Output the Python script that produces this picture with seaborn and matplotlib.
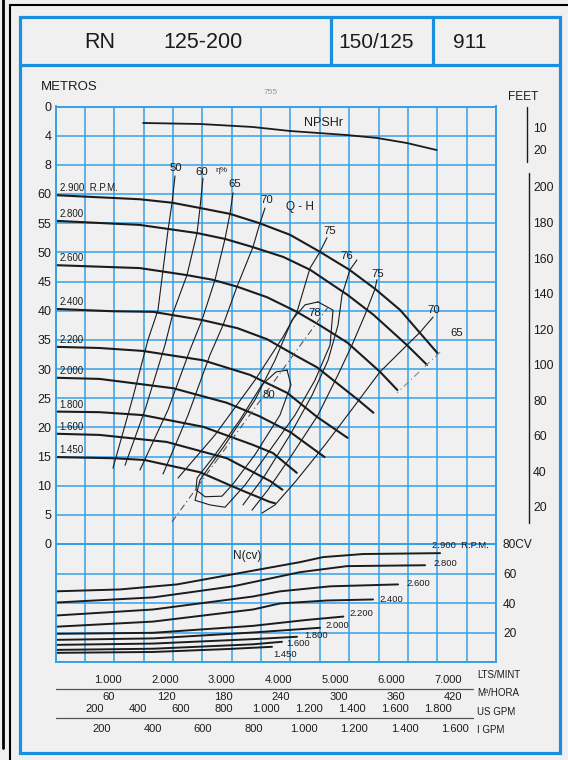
import matplotlib
matplotlib.use('Agg')
import matplotlib.pyplot as plt
import matplotlib.transforms as mtransforms
from matplotlib.patches import Rectangle
from matplotlib.lines import Line2D
import numpy as np
import pandas as pd
import seaborn as sns

# ---------------- data (Q in m3/h, H in m, P in CV) ----------------
SPEED_LABELS = ['2.900  R.P.M.', '2.800', '2.600', '2.400', '2.200',
                '2.000', '1.800', '1.600', '1.450']

Q_2900 = [0, 88, 122, 151, 182, 213, 245, 276, 307, 334, 360, 380, 399]
H_2900 = [59.8, 59.1, 58.5, 57.6, 56.6, 55.0, 53.0, 50.1, 47.0, 43.7, 40.1, 36.3, 32.7]
Q_2800 = [0, 88, 148, 177, 206, 238, 266, 305, 332, 367, 388]
H_2800 = [55.4, 54.7, 53.3, 52.3, 50.9, 49.2, 47.0, 42.7, 39.3, 34.1, 30.7]
Q_2600 = [0, 88, 137, 164, 190, 221, 252, 276, 305, 339, 357]
H_2600 = [47.8, 47.3, 46.1, 45.3, 44.1, 42.3, 39.8, 37.5, 34.5, 29.5, 26.4]
Q_2400 = [0, 60, 102, 153, 190, 221, 253, 273, 316, 332]
H_2400 = [40.3, 39.9, 39.8, 38.4, 37.0, 35.1, 32.1, 30.3, 24.7, 22.5]
Q_2200 = [0, 46, 91, 154, 203, 242, 273, 305]
H_2200 = [33.8, 33.6, 33.1, 31.5, 29.0, 25.9, 21.8, 18.2]
Q_2000 = [0, 46, 123, 179, 213, 245, 281]
H_2000 = [28.5, 28.3, 26.7, 24.2, 21.9, 19.2, 14.9]
Q_1800 = [0, 46, 91, 154, 206, 227, 252]
H_1800 = [22.7, 22.6, 22.1, 20.1, 17.0, 15.6, 12.2]
Q_1600 = [0, 46, 116, 179, 224, 237]
H_1600 = [18.9, 18.7, 17.5, 14.7, 10.8, 9.3]
Q_1450 = [0, 62, 93, 151, 193, 224, 229]
H_1450 = [14.9, 14.7, 14.4, 12.3, 9.3, 7.2, 7.0]

# NPSH required (m)
NPSH_Q = [91.5, 151, 206, 245, 304, 336, 367, 398]
NPSH_M = [2.26, 2.40, 2.81, 3.36, 3.91, 4.32, 5.01, 5.97]

# iso-efficiency lines
ETA50_Q = [124.8, 121.7, 117.5, 112.3, 107.0, 96.6, 80.9, 60.0]
ETA50_H = [63.1, 58.5, 53.8, 47.0, 40.1, 35.0, 25.2, 13.0]
ETA60_Q = [154.0, 150.9, 147.8, 137.3, 122.7, 114.3, 93.5, 72.6]
ETA60_H = [62.7, 57.6, 53.3, 46.1, 39.6, 34.1, 23.0, 13.5]
ETA65_Q = [185.4, 182.2, 177.0, 166.6, 153.0, 140.5, 117.5, 88.2]
ETA65_H = [60.2, 56.6, 52.3, 45.3, 38.4, 33.3, 23.0, 12.7]
ETA70_Q = [218.8, 213.5, 206.2, 189.5, 174.9, 161.3, 138.4, 112.3]
ETA70_H = [57.6, 55.0, 50.9, 44.1, 37.5, 32.4, 22.1, 12.0]
ETA75L_Q = [283.5, 276.2, 265.8, 252.2, 237.6, 208.3, 166.6, 127.9]
ETA75L_H = [52.5, 50.1, 47.3, 39.8, 35.5, 28.1, 18.7, 11.3]
ETA76_Q = [314.8, 307.5, 299.2, 295.0, 284.6, 267.9, 244.9, 218.8, 195.8]
ETA76_H = [48.7, 47.0, 42.7, 37.5, 31.5, 25.5, 18.7, 11.8, 6.7]
ETA75R_Q = [335.7, 333.6, 323.2, 309.6, 295.0, 274.1, 247.0, 221.9, 205.2]
ETA75R_H = [45.3, 43.7, 39.3, 34.1, 29.0, 22.1, 15.3, 9.3, 5.8]
ETA70R_Q = [394.3, 380.7, 367.1, 338.8, 312.8, 281.5, 250.1, 229.2, 215.6]
ETA70R_H = [38.9, 36.3, 34.1, 29.5, 23.8, 17.0, 10.6, 6.7, 5.3]
ETA78_Q = [274.1, 289.8, 286.7, 271.0, 250.1, 224.0, 197.9, 177.0, 161.3, 145.7,
           150.9, 177.0, 208.3, 229.2, 247.0, 260.6, 274.1]
ETA78_H = [41.5, 40.1, 34.1, 28.1, 22.1, 16.1, 10.1, 6.3, 6.7, 7.5,
           11.0, 17.0, 24.7, 31.5, 38.4, 41.0, 41.5]
ETA80_Q = [241.8, 245.9, 234.4, 208.3, 185.4, 173.9, 156.1, 146.7, 147.8, 166.6,
           192.7, 215.6, 230.3, 241.8]
ETA80_H = [29.8, 27.3, 22.1, 15.3, 10.3, 8.2, 8.1, 9.3, 11.3, 15.3,
           21.3, 27.3, 29.5, 29.8]
BEP_Q = [121.7, 284.6]
BEP_H = [3.8, 40.6]
ETA65R_Q = [401.6, 356.6]
ETA65R_H = [32.9, 25.9]

ETA_LABELS = ['50', '60', '65', '70', '75', '76', '75', '70', '65', '78', '80']
ETA_LABEL_Q = [125.8, 153.0, 187.5, 220.9, 286.7, 304.4, 336.8, 395.4, 419.4, 271.0, 223.0]
ETA_LABEL_H = [64.5, 63.8, 61.7, 59.0, 53.7, 49.4, 46.3, 40.1, 36.2, 39.6, 25.5]

# absorbed power N (CV)
PQ_2900 = [0, 67.4, 126.9, 185.4, 255.3, 279.3, 321.1, 401.6]
P_2900 = [47.9, 49.2, 52.6, 59.5, 67.7, 71.1, 73.2, 73.8]
PQ_2800 = [0, 101.9, 185.4, 255.3, 304.4, 385.9]
P_2800 = [40.3, 43.8, 51.3, 60.9, 65.0, 65.6]
PQ_2600 = [0, 101.9, 206.2, 234.4, 286.7, 357.7]
P_2600 = [31.5, 35.6, 44.4, 47.9, 51.3, 52.6]
PQ_2400 = [0, 101.9, 206.2, 234.4, 283.5, 331.6]
P_2400 = [23.9, 27.4, 35.6, 39.7, 41.7, 42.4]
PQ_2200 = [0, 101.9, 206.2, 262.0, 300.6]
P_2200 = [19.1, 19.8, 24.5, 28.5, 30.8]
PQ_2000 = [0, 101.9, 206.2, 276.2]
P_2000 = [15.0, 16.0, 20.0, 23.2]
PQ_1800 = [0, 101.9, 206.2, 252.2]
P_1800 = [11.6, 12.5, 15.5, 17.1]
PQ_1600 = [0, 101.9, 206.2, 236.5]
P_1600 = [8.2, 9.0, 12.0, 13.7]
PQ_1450 = [0, 101.9, 180.0, 226.1]
P_1450 = [6.2, 6.8, 8.8, 10.3]

# flow scales under the chart (m3/h per unit, as printed on the sheet)
LPM_TICKS = [1000, 2000, 3000, 4000, 5000, 6000, 7000]
M3H_TICKS = [60, 120, 180, 240, 300, 360, 420]
USGPM_TICKS = [200, 400, 600, 800, 1000, 1200, 1400, 1600, 1800]
IGPM_TICKS = [200, 400, 600, 800, 1000, 1200, 1400, 1600]
LPM_FACTOR = 0.0593
USGPM_FACTOR = 0.2245
IGPM_FACTOR = 0.264
FEET_HEAD = [20, 40, 60, 80, 100, 120, 140, 160, 180, 200]
FEET_NPSH = [10, 20]

# ---------------- styling ----------------
BLUE = '#35a0e6'
FRAME = '#1a8fe0'
INK = '#1c1c1c'
PAPER = '#f0f0f0'
W_PX, H_PX = 568, 760


def fx(px):
    return px / W_PX


def fy(py):
    return 1 - py / H_PX


def dotted(v):
    return f'{v:,}'.replace(',', '.')


sns.set_theme(style='white')
plt.rcParams['font.family'] = ['Liberation Sans', 'DejaVu Sans']
plt.rcParams['text.color'] = INK

fig = plt.figure(figsize=(5.68, 7.6), dpi=100)
fig.patch.set_facecolor(PAPER)

left, right = fx(55.5), fx(496)
ax_h = fig.add_axes([left, fy(544), right - left, fy(106.5) - fy(544)])
ax_p = fig.add_axes([left, fy(662), right - left, fy(544) - fy(662)], sharex=ax_h)
ax_s = fig.add_axes([left, fy(750), right - left, fy(662) - fy(750)])

for ax in (ax_h, ax_p):
    ax.set_facecolor(PAPER)
    ax.set_xticks(np.linspace(0, 460, 16))
    ax.grid(True, color=BLUE, lw=1.1)
    ax.set_axisbelow(True)
    ax.tick_params(length=0, labelbottom=False, colors=INK)
    for s in ax.spines.values():
        s.set_color(BLUE)
        s.set_linewidth(1.4)
ax_h.set_xlim(0, 460)

# ---- Q-H curves ----
qh_q = [Q_2900, Q_2800, Q_2600, Q_2400, Q_2200, Q_2000, Q_1800, Q_1600, Q_1450]
qh_h = [H_2900, H_2800, H_2600, H_2400, H_2200, H_2000, H_1800, H_1600, H_1450]
df_qh = pd.concat([pd.DataFrame({'Q': q, 'H': h, 'speed': lab})
                   for q, h, lab in zip(qh_q, qh_h, SPEED_LABELS)])
sns.lineplot(data=df_qh, x='Q', y='H', units='speed', estimator=None, sort=False,
             color=INK, lw=1.5, ax=ax_h)
for q, h, lab in zip(qh_q, qh_h, SPEED_LABELS):
    ax_h.annotate(lab, (q[0], h[0]), xytext=(4, 2), textcoords='offset pixels',
                  fontsize=7, ha='left', va='bottom', color=INK)

# ---- efficiency lines ----
eta_q = [ETA50_Q, ETA60_Q, ETA65_Q, ETA70_Q, ETA75L_Q, ETA76_Q, ETA75R_Q, ETA70R_Q,
         ETA78_Q, ETA80_Q]
eta_h = [ETA50_H, ETA60_H, ETA65_H, ETA70_H, ETA75L_H, ETA76_H, ETA75R_H, ETA70R_H,
         ETA78_H, ETA80_H]
df_eta = pd.concat([pd.DataFrame({'Q': q, 'H': h, 'line': i})
                    for i, (q, h) in enumerate(zip(eta_q, eta_h))])
sns.lineplot(data=df_eta, x='Q', y='H', units='line', estimator=None, sort=False,
             color=INK, lw=0.8, ax=ax_h)
ax_h.plot(BEP_Q, BEP_H, color='#555555', lw=0.8, ls=(0, (6, 3, 1, 3)))
ax_h.plot(ETA65R_Q, ETA65R_H, color='#888888', lw=0.8, ls=(0, (6, 3, 1, 3)))
for lab, q, h in zip(ETA_LABELS, ETA_LABEL_Q, ETA_LABEL_H):
    ax_h.text(q, h, lab, fontsize=8.2, ha='center', va='center', color=INK)
ax_h.text(173.9, 64.0, 'η%', fontsize=6, ha='center', va='center', color=INK)

# ---- NPSHr (top scale: 0 m at H=75, 4 m per 5 m of head) ----
npsh_plot = [75 - 1.25 * n for n in NPSH_M]
sns.lineplot(x=NPSH_Q, y=npsh_plot, color=INK, lw=1.3, sort=False, ax=ax_h)
ax_h.text(279.4, 72.2, 'NPSHr', fontsize=9, ha='center', va='center')
ax_h.text(255.3, 57.8, 'Q - H', fontsize=8.5, ha='center', va='center')

ax_h.set_ylim(0, 75)
ax_h.set_yticks(np.arange(0, 80, 5))
ax_h.set_yticklabels([str(v) for v in range(0, 65, 5)] + ['8', '4', '0'], fontsize=9)
ax_h.tick_params(axis='y', pad=3)
ax_h.set_xlabel('')
ax_h.set_ylabel('')

# feet scales on the right
tr = mtransforms.blended_transform_factory(ax_h.transAxes, ax_h.transData)
ax_h.plot([1.070, 1.070], [74.9, 65.5], color=INK, lw=1.0, transform=tr, clip_on=False)
ax_h.plot([1.074, 1.074], [63.6, 3.6], color=INK, lw=1.0, transform=tr, clip_on=False)
for ft in FEET_NPSH:
    ax_h.text(1.084, 75 - 1.25 * ft * 0.3048, str(ft), transform=tr, fontsize=8.8,
              ha='left', va='center')
for ft in FEET_HEAD:
    ax_h.text(1.084, ft * 0.3048, str(ft), transform=tr, fontsize=8.8,
              ha='left', va='center')

# ---- power curves ----
p_q = [PQ_2900, PQ_2800, PQ_2600, PQ_2400, PQ_2200, PQ_2000, PQ_1800, PQ_1600, PQ_1450]
p_v = [P_2900, P_2800, P_2600, P_2400, P_2200, P_2000, P_1800, P_1600, P_1450]
df_p = pd.concat([pd.DataFrame({'Q': q, 'P': p, 'speed': lab})
                  for q, p, lab in zip(p_q, p_v, SPEED_LABELS)])
sns.lineplot(data=df_p, x='Q', y='P', units='speed', estimator=None, sort=False,
             color=INK, lw=1.4, ax=ax_p)
offsets = [(-8, 8), (8, 2), (8, 1), (6, 0), (6, 3), (5, 2), (7, 1), (4, -2), (1, -8)]
for q, p, lab, off in zip(p_q, p_v, SPEED_LABELS, offsets):
    ax_p.annotate(lab, (q[-1], p[-1]), xytext=off, textcoords='offset pixels',
                  fontsize=6.8, ha='left', va='center', color=INK)
ax_p.text(200.0, 71.8, 'N(cv)', fontsize=8.5, ha='center', va='center')
ax_p.set_ylim(0, 80)
ax_p.set_yticks([0, 20, 40, 60, 80])
ax_p.set_yticklabels(['', '20', '40', '60', '80CV'], fontsize=8.6)
ax_p.yaxis.tick_right()
ax_p.tick_params(axis='y', pad=5)
ax_p.set_xlabel('')
ax_p.set_ylabel('')

# ---- flow scales ----
ax_s.set_xlim(4, 465)
ax_s.set_ylim(0, 1)
ax_s.axis('off')
for v in LPM_TICKS:
    ax_s.text(v * LPM_FACTOR, 0.795, dotted(v), ha='center', va='center', fontsize=8)
for v in M3H_TICKS:
    ax_s.text(v, 0.60, str(v), ha='center', va='center', fontsize=8)
for v in USGPM_TICKS:
    ax_s.text(v * USGPM_FACTOR, 0.465, dotted(v), ha='center', va='center', fontsize=8)
for v in IGPM_TICKS:
    ax_s.text(v * IGPM_FACTOR, 0.239, dotted(v), ha='center', va='center', fontsize=8)
ax_s.plot([4, 441], [0.693, 0.693], color='#555555', lw=0.9, clip_on=False)
ax_s.plot([4, 441], [0.364, 0.364], color='#555555', lw=0.9, clip_on=False)
for txt, yy in [('LTS/MINT', 0.852), ('M³/HORA', 0.648), ('US GPM', 0.432), ('I GPM', 0.227)]:
    ax_s.text(445, yy, txt, ha='left', va='center', fontsize=7)

# ---- page furniture ----
fig.text(fx(41), fy(87), 'METROS', fontsize=9.5, ha='left', va='center')
fig.text(fx(271), fy(93), '755', fontsize=6, ha='center', va='center', color='#999999')
fig.text(fx(523), fy(97), 'FEET', fontsize=8.6, ha='center', va='center')

fig.add_artist(Rectangle((fx(20), fy(753)), fx(560) - fx(20), fy(17) - fy(753),
                         transform=fig.transFigure, fill=False, ec=FRAME, lw=2.3))
fig.add_artist(Line2D([fx(20), fx(560)], [fy(65), fy(65)], transform=fig.transFigure,
                      color=FRAME, lw=2.3))
for xx in (331, 433):
    fig.add_artist(Line2D([fx(xx), fx(xx)], [fy(17), fy(65)], transform=fig.transFigure,
                          color=FRAME, lw=2.3))
fig.add_artist(Line2D([fx(3), fx(3)], [fy(0), fy(748)], transform=fig.transFigure,
                      color='black', lw=2.0))
fig.add_artist(Line2D([fx(10), fx(568)], [fy(5), fy(5)], transform=fig.transFigure,
                      color='black', lw=1.5))
fig.add_artist(Line2D([fx(10), fx(10)], [fy(5), fy(760)], transform=fig.transFigure,
                      color='black', lw=1.5))

fig.text(fx(100), fy(42), 'RN', fontsize=15.5, ha='center', va='center')
fig.text(fx(203), fy(42), '125-200', fontsize=15.5, ha='center', va='center')
fig.text(fx(376), fy(42), '150/125', fontsize=15, ha='center', va='center')
fig.text(fx(470), fy(42), '911', fontsize=15, ha='center', va='center')

fig.savefig('out.png', dpi=100, facecolor=fig.get_facecolor())
